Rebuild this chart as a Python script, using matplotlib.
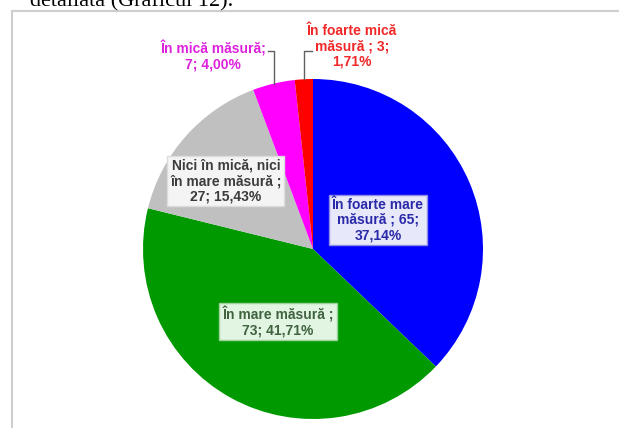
import numpy as np
import matplotlib.pyplot as plt
from matplotlib.lines import Line2D

# data
categories = ['În foarte mare\nmăsură ; 65;\n37,14%',
              'În mare măsură ;\n73; 41,71%',
              'Nici în mică, nici\nîn mare măsură ;\n27; 15,43%',
              'În mică măsură;\n7; 4,00%',
              'În foarte mică\nmăsură ; 3;\n1,71%']
counts = [65, 73, 27, 7, 3]
colors = ['#0000ff', '#009a00', '#c0c0c0', '#ff00ff', '#ff0000']
text_colors = ['#2a2aa8', '#3f633f', '#3c3c3c', '#dd22dd', '#f02828']
box_faces = ['#e8e8fb', '#e2f4e2', '#f4f4f4', None, None]
box_edges = ['#8c8ce6', '#9ad29a', '#dcdcdc', None, None]
# label positions (pie data units, radius 1)
label_pos = [(0.382, 0.171), (-0.206, -0.429), (-0.512, 0.40),
             (-0.588, 1.135), (0.229, 1.194)]
# leader lines: elbow height and end x for the two small slices
leader = {3: (1.165, -0.265), 4: (1.165, -0.006)}

W, H = 619, 428
fig = plt.figure(figsize=(W / 100, H / 100), dpi=100)

# text above the chart, cut by the picture edge
fig.text(233 / W, 1 - 6 / H, 'detaliată (Graficul 12).', ha='right', va='baseline',
         fontsize=16, family='Liberation Serif', color='black')

# chart frame
fig.add_artist(Line2D([12 / W, 1.0], [1 - 11 / H, 1 - 11 / H], color='#cfcfcf', lw=1.5))
fig.add_artist(Line2D([12 / W, 12 / W], [0, 1 - 11 / H], color='#cfcfcf', lw=1.5))

cx, cy, r = 313, 249, 170
ax = fig.add_axes([(cx - r) / W, (H - cy - r) / H, 2 * r / W, 2 * r / H])
wedges, _ = ax.pie(counts, colors=colors, startangle=90, counterclock=False,
                   wedgeprops=dict(linewidth=0))
ax.set_xlim(-1, 1)
ax.set_ylim(-1, 1)
ax.set_aspect('auto')
ax.axis('off')

for i, (txt, (x, y)) in enumerate(zip(categories, label_pos)):
    bbox = None
    if box_faces[i] is not None:
        bbox = dict(boxstyle='square,pad=0.2', fc=box_faces[i], ec=box_edges[i], lw=1)
    ax.text(x, y, txt, ha='center', va='center', fontsize=10, fontweight='bold',
            family='Liberation Sans', color=text_colors[i], linespacing=1.12,
            bbox=bbox, clip_on=False)

for i, (ey, ex) in leader.items():
    w = wedges[i]
    mid = np.deg2rad((w.theta1 + w.theta2) / 2)
    ax_, ay_ = np.cos(mid), np.sin(mid)
    ax.plot([ax_, ax_, ex], [ay_, ey, ey], color='#606060', lw=1, clip_on=False)

fig.savefig('out.png', dpi=100)
